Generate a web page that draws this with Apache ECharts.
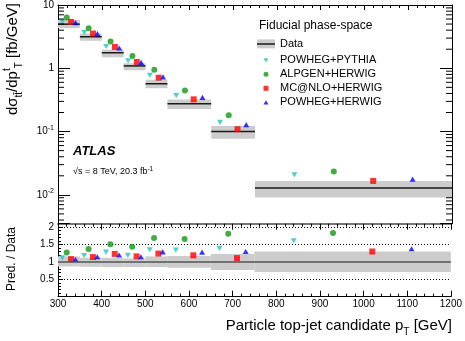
<!DOCTYPE html>
<html>
<head>
<meta charset="utf-8">
<script src="https://cdn.jsdelivr.net/npm/echarts@6/dist/echarts.min.js"></script>
<style>
  html, body { margin: 0; padding: 0; background: #fff; }
  #chart { width: 465px; height: 341px; }
</style>
</head>
<body>
<div id="chart"></div>
<script>
// bins of particle top-jet pT [GeV]
var binLo = [300, 350, 400, 450, 500, 550, 650, 750];
var binHi = [350, 400, 450, 500, 550, 650, 750, 1200];

// measured cross section [fb/GeV] and its uncertainty band
var dataVal = [4.98, 3.15, 1.76, 1.09, 0.57, 0.276, 0.100, 0.0128];
var dataUp = [5.81, 3.54, 1.97, 1.20, 0.66, 0.32, 0.123, 0.0166];
var dataDown = [4.31, 2.72, 1.49, 0.93, 0.485, 0.227, 0.077, 0.0091];

// predictions (x is shifted inside each bin)
var pythiaX = [310, 360, 410, 460, 510, 570, 670, 840];
var alpgenX = [320, 370, 420, 470, 520, 590, 690, 930];
var mcnloX = [330, 380, 430, 480, 530, 610, 710, 1020];
var herwigX = [340, 390, 440, 490, 540, 630, 730, 1110];

var pythiaVal = [5.47, 3.67, 2.21, 1.31, 0.77, 0.369, 0.140, 0.0207];
var alpgenVal = [6.32, 4.31, 2.65, 1.57, 0.95, 0.447, 0.181, 0.0233];
var mcnloVal = [5.41, 3.54, 2.17, 1.26, 0.71, 0.323, 0.109, 0.0166];
var herwigVal = [5.27, 3.54, 2.09, 1.24, 0.73, 0.347, 0.129, 0.0177];

// ratio panel
var pythiaRatio = [1.12, 1.18, 1.28, 1.19, 1.35, 1.34, 1.39, 1.61];
var alpgenRatio = [1.27, 1.37, 1.51, 1.44, 1.69, 1.66, 1.81, 1.83];
var mcnloRatio = [1.08, 1.14, 1.23, 1.16, 1.24, 1.19, 1.11, 1.30];
var herwigRatio = [1.07, 1.15, 1.20, 1.15, 1.29, 1.28, 1.30, 1.38];
var ratioBandHi = [1.16, 1.12, 1.12, 1.10, 1.16, 1.17, 1.23, 1.30];
var ratioBandLo = [0.87, 0.86, 0.85, 0.85, 0.85, 0.83, 0.77, 0.71];

var names = ['POWHEG+PYTHIA', 'ALPGEN+HERWIG', 'MC@NLO+HERWIG', 'POWHEG+HERWIG'];
var colors = ['#22c4c4', '#119911', '#ff0000', '#0000ff'];
var symbols = ['path://M0,0L10,0L5,8.66Z', 'circle', 'rect', 'path://M5,0L10,8.66L0,8.66Z'];

var FONT = '"Liberation Sans", Arial, sans-serif';

var chart = echarts.init(document.getElementById('chart'), null, {renderer: 'canvas'});

function pairs(xs, ys) {
    var out = [];
    for (var i = 0; i < xs.length; i++) out.push([xs[i], ys[i]]);
    return out;
}

var bandData = [];
var ratioBandData = [];
for (var i = 0; i < binLo.length; i++) {
    bandData.push([binLo[i], binHi[i], dataVal[i], dataDown[i], dataUp[i]]);
    ratioBandData.push([binLo[i], binHi[i], ratioBandLo[i], ratioBandHi[i]]);
}

// minor ticks of the log axis (2..9 in each decade)
var minorLog = [];
for (var d = -3; d <= 0; d++) {
    for (var k = 2; k <= 9; k++) {
        var v = k * Math.pow(10, d);
        if (v > 0.0035 && v < 10) minorLog.push([300, v]);
    }
}

function logLabel(v) {
    var e = Math.log(v) / Math.LN10;
    var r = Math.round(e);
    if (Math.abs(e - r) > 1e-6) return '';
    if (r === 0) return '1';
    if (r === 1) return '10';
    return '10{sup|' + r + '}';
}

var series = [
    {
        name: 'Data',
        type: 'custom',
        xAxisIndex: 0,
        yAxisIndex: 0,
        itemStyle: {color: '#cccccc'},
        encode: {x: [0, 1], y: [2, 3, 4]},
        data: bandData,
        z: 1,
        renderItem: function (params, api) {
            var a = api.coord([api.value(0), api.value(4)]);
            var b = api.coord([api.value(1), api.value(3)]);
            var m1 = api.coord([api.value(0), api.value(2)]);
            var m2 = api.coord([api.value(1), api.value(2)]);
            return {
                type: 'group',
                children: [
                    {type: 'rect', shape: {x: a[0], y: a[1], width: b[0] - a[0], height: b[1] - a[1]}, style: {fill: '#cccccc'}},
                    {type: 'line', shape: {x1: m1[0], y1: m1[1], x2: m2[0], y2: m2[1]}, style: {stroke: '#1a1a1a', lineWidth: 1.5}}
                ]
            };
        }
    },
    {
        name: 'ratioBand',
        type: 'custom',
        xAxisIndex: 1,
        yAxisIndex: 2,
        encode: {x: [0, 1], y: [2, 3]},
        data: ratioBandData,
        z: 1,
        renderItem: function (params, api) {
            var a = api.coord([api.value(0), api.value(3)]);
            var b = api.coord([api.value(1), api.value(2)]);
            return {type: 'rect', shape: {x: a[0], y: a[1], width: b[0] - a[0], height: b[1] - a[1]}, style: {fill: '#cccccc'}};
        },
        markLine: {
            silent: true,
            symbol: 'none',
            label: {show: false},
            lineStyle: {color: '#555', type: 'solid', width: 1.5},
            data: [{yAxis: 1}]
        }
    },
    {
        name: 'minorTicks',
        type: 'custom',
        xAxisIndex: 0,
        yAxisIndex: 0,
        encode: {x: 0, y: 1},
        data: minorLog,
        silent: true,
        z: 5,
        renderItem: function (params, api) {
            var l = api.coord([300, api.value(1)]);
            var r = api.coord([1200, api.value(1)]);
            return {
                type: 'group',
                children: [
                    {type: 'line', shape: {x1: l[0], y1: l[1], x2: l[0] + 6, y2: l[1]}, style: {stroke: '#000', lineWidth: 1}},
                    {type: 'line', shape: {x1: r[0], y1: r[1], x2: r[0] - 6, y2: r[1]}, style: {stroke: '#000', lineWidth: 1}}
                ]
            };
        }
    }
];

var topVals = [pythiaVal, alpgenVal, mcnloVal, herwigVal];
var ratioVals = [pythiaRatio, alpgenRatio, mcnloRatio, herwigRatio];
var xs = [pythiaX, alpgenX, mcnloX, herwigX];
for (var s = 0; s < names.length; s++) {
    series.push({
        name: names[s],
        type: 'scatter',
        xAxisIndex: 0,
        yAxisIndex: 0,
        symbol: symbols[s],
        symbolSize: 6,
        symbolKeepAspect: true,
        itemStyle: {color: colors[s]},
        z: 3,
        data: pairs(xs[s], topVals[s])
    });
    series.push({
        name: names[s],
        type: 'scatter',
        xAxisIndex: 1,
        yAxisIndex: 2,
        symbol: symbols[s],
        symbolSize: 6,
        symbolKeepAspect: true,
        itemStyle: {color: colors[s]},
        z: 3,
        data: pairs(xs[s], ratioVals[s])
    });
}

var option = {
    animation: false,
    backgroundColor: '#fff',
    grid: [
        {left: 58, right: 13, top: 5, height: 218.7},
        {left: 58, right: 13, top: 223.7, height: 73}
    ],
    xAxis: [
        {
            gridIndex: 0, type: 'value', position: 'top', min: 300, max: 1200, interval: 100,
            axisLine: {lineStyle: {color: '#000', width: 1}},
            axisTick: {inside: true, length: 5, lineStyle: {color: '#000'}},
            minorTick: {show: true, splitNumber: 5, length: 3, lineStyle: {color: '#000'}},
            axisLabel: {show: false},
            splitLine: {show: false}
        },
        {
            gridIndex: 1, type: 'value', position: 'bottom', min: 300, max: 1200, interval: 100,
            axisLine: {lineStyle: {color: '#000', width: 1}},
            axisTick: {inside: true, length: 6, lineStyle: {color: '#000'}},
            minorTick: {show: true, splitNumber: 5, length: 3, lineStyle: {color: '#000'}},
            axisLabel: {
                margin: 3, fontFamily: FONT, fontSize: 10, color: '#000',
                formatter: function (v) { return String(v); }
            },
            splitLine: {show: false}
        },
        {
            gridIndex: 1, type: 'value', position: 'top', min: 300, max: 1200, interval: 100,
            axisLine: {lineStyle: {color: '#777', width: 2}},
            axisTick: {inside: true, length: 6, lineStyle: {color: '#000'}},
            minorTick: {show: true, splitNumber: 5, length: 3, lineStyle: {color: '#000'}},
            axisLabel: {show: false},
            splitLine: {show: false}
        }
    ],
    yAxis: [
        {
            gridIndex: 0, type: 'log', logBase: 10, min: 0.0035, max: 10, position: 'left',
            axisLine: {lineStyle: {color: '#000', width: 1}},
            axisTick: {inside: true, length: 12, lineStyle: {color: '#000'}},
            axisLabel: {
                margin: 4, fontFamily: FONT, fontSize: 10, color: '#000',
                formatter: logLabel,
                rich: {sup: {fontFamily: FONT, fontSize: 7, verticalAlign: 'top', padding: [0, 0, 7, 0]}}
            },
            splitLine: {show: false}
        },
        {
            gridIndex: 0, type: 'log', logBase: 10, min: 0.0035, max: 10, position: 'right',
            axisLine: {lineStyle: {color: '#000', width: 1}},
            axisTick: {inside: true, length: 12, lineStyle: {color: '#000'}},
            axisLabel: {show: false},
            splitLine: {show: false}
        },
        {
            gridIndex: 1, type: 'value', min: 0, max: 2.1, interval: 0.5, position: 'left',
            axisLine: {lineStyle: {color: '#000', width: 1}},
            axisTick: {inside: true, length: 5, lineStyle: {color: '#000'}},
            minorTick: {show: true, splitNumber: 5, length: 3, lineStyle: {color: '#000'}},
            axisLabel: {
                margin: 4, fontFamily: FONT, fontSize: 10, color: '#000',
                formatter: function (v) {
                    return (v > 0 && v <= 2) ? String(v) : '';
                }
            },
            splitLine: {show: true, lineStyle: {color: '#000', type: [1, 2], width: 1}}
        }
    ],
    legend: [
        {
            data: [{name: 'Data', icon: 'rect'}],
            orient: 'vertical', left: 257, top: 38.4, padding: 0,
            itemWidth: 18, itemHeight: 9,
            textStyle: {fontFamily: FONT, fontSize: 11, color: '#000'},
            selectedMode: false
        },
        {
            data: names,
            orient: 'vertical', left: 263.5, top: 54.8, padding: 0,
            itemWidth: 5, itemHeight: 5, itemGap: 3,
            textStyle: {fontFamily: FONT, fontSize: 11, color: '#000', padding: [0, 0, 0, 6.5]},
            selectedMode: false
        }
    ],
    graphic: [
        {type: 'line', shape: {x1: 257, y1: 44, x2: 275, y2: 44}, style: {stroke: '#1a1a1a', lineWidth: 1.5}, z: 100},
        {type: 'text', x: 259, y: 26, style: {text: 'Fiducial phase-space', fontFamily: FONT, fontSize: 12, fill: '#000', verticalAlign: 'middle'}},
        {type: 'text', x: 73, y: 151.5, style: {text: 'ATLAS', fontFamily: FONT, fontSize: 13, fontWeight: 'bold', fontStyle: 'italic', fill: '#000', verticalAlign: 'middle'}},
        {
            type: 'text', x: 73, y: 172,
            style: {
                text: '{m|\u221As = 8 TeV, 20.3 fb}{u|-1}',
                verticalAlign: 'middle', fill: '#000',
                rich: {
                    m: {fontFamily: FONT, fontSize: 9, lineHeight: 12, verticalAlign: 'middle'},
                    u: {fontFamily: FONT, fontSize: 6.5, lineHeight: 6, verticalAlign: 'top'}
                }
            }
        },
        {
            type: 'text', x: 13, y: 3, rotation: Math.PI / 2,
            style: {
                text: '{m|d\u03C3}{s|tt\u0304}{m|/dp}{u|t}{s|T}{m| [fb/GeV]}',
                align: 'right', verticalAlign: 'middle', fill: '#000',
                rich: {
                    m: {fontFamily: FONT, fontSize: 15, lineHeight: 22, verticalAlign: 'middle'},
                    u: {fontFamily: FONT, fontSize: 10, lineHeight: 11, verticalAlign: 'top'},
                    s: {fontFamily: FONT, fontSize: 10, lineHeight: 11, verticalAlign: 'bottom'}
                }
            }
        },
        {
            type: 'text', x: 12, y: 259, rotation: Math.PI / 2,
            style: {text: 'Pred. / Data', fontFamily: FONT, fontSize: 12, fill: '#000', align: 'center', verticalAlign: 'middle'}
        },
        {
            type: 'text', x: 452, y: 326,
            style: {
                text: '{m|Particle top-jet candidate p}{s|T}{m| [GeV]}',
                align: 'right', verticalAlign: 'middle', fill: '#000',
                rich: {
                    m: {fontFamily: FONT, fontSize: 15, lineHeight: 22, verticalAlign: 'middle'},
                    s: {fontFamily: FONT, fontSize: 10, lineHeight: 11, verticalAlign: 'bottom'}
                }
            }
        }
    ],
    series: series
};

chart.setOption(option);
</script>
</body>
</html>
